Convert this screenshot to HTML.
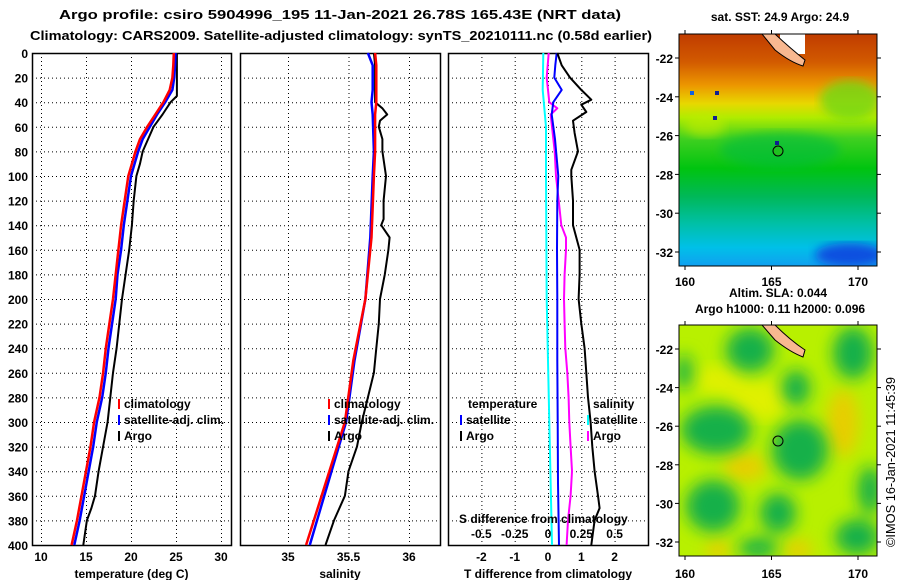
<!DOCTYPE html>
<html><head><meta charset="utf-8"><style>
html,body{margin:0;padding:0;background:#fff;}
svg{display:block;font-family:"Liberation Sans",Arial,sans-serif;font-weight:bold;}
</style></head><body>
<svg id="chart" width="900" height="580" viewBox="0 0 900 580" xmlns="http://www.w3.org/2000/svg">
<defs>
<linearGradient id="sstGrad" x1="0" y1="0" x2="0" y2="1">
<stop offset="0" stop-color="#c03c00"/><stop offset="0.12" stop-color="#d25a00"/>
<stop offset="0.22" stop-color="#ec9600"/><stop offset="0.3" stop-color="#e8d800"/>
<stop offset="0.36" stop-color="#b0ec00"/><stop offset="0.45" stop-color="#40d020"/>
<stop offset="0.58" stop-color="#00c410"/><stop offset="0.7" stop-color="#00b858"/>
<stop offset="0.82" stop-color="#00c0a8"/><stop offset="0.92" stop-color="#00c0e8"/>
<stop offset="1" stop-color="#10a0f0"/></linearGradient>
<filter id="blur8"><feGaussianBlur stdDeviation="8"/></filter>
<filter id="blur5"><feGaussianBlur stdDeviation="5"/></filter>
<clipPath id="clipTop"><rect x="679" y="34" width="198" height="232"/></clipPath>
<clipPath id="clipBot"><rect x="679" y="325" width="198" height="231"/></clipPath>
</defs>
<text x="340" y="19" font-size="13" text-anchor="middle" textLength="562" lengthAdjust="spacingAndGlyphs">Argo profile: csiro 5904996_195 11-Jan-2021 26.78S 165.43E (NRT data)</text>
<text x="341" y="40" font-size="13" text-anchor="middle" textLength="622" lengthAdjust="spacingAndGlyphs">Climatology: CARS2009. Satellite-adjusted climatology: synTS_20210111.nc (0.58d earlier)</text>
<g id="plots"></g>

<!-- top SST map -->
<g clip-path="url(#clipTop)">
<rect x="679" y="34" width="198" height="232" fill="url(#sstGrad)"/>
<ellipse cx="850" cy="100" rx="30" ry="20" fill="#70d818" opacity="0.8" filter="url(#blur5)"/>
<ellipse cx="780" cy="150" rx="60" ry="18" fill="#00bc40" opacity="0.6" filter="url(#blur5)"/>
<ellipse cx="850" cy="255" rx="35" ry="12" fill="#1050e0" filter="url(#blur5)"/>
<ellipse cx="705" cy="125" rx="20" ry="12" fill="#c0ec00" opacity="0.6" filter="url(#blur5)"/>
<rect x="780" y="34" width="25" height="20" fill="#fff"/>
<path d="M762,34 L775,34 Q790,48 805,60 L803,66 Q790,62 775,50 Z" fill="#f8b890" stroke="#000" stroke-width="1"/>
<rect x="715" y="91" width="4" height="4" fill="#102090"/><rect x="713" y="116" width="4" height="4" fill="#102090"/>
<rect x="775" y="141" width="4" height="4" fill="#102090"/><rect x="690" y="91" width="4" height="4" fill="#1060e0"/>
<circle cx="778" cy="151" r="5" fill="#20c020" stroke="#000"/>
</g>
<rect x="679" y="34" width="198" height="232" fill="none" stroke="#000"/>
<text x="780" y="21" font-size="12" text-anchor="middle">sat. SST: 24.9 Argo: 24.9</text>

<!-- bottom SLA map -->
<g clip-path="url(#clipBot)">
<rect x="679" y="325" width="198" height="231" fill="#b8f000"/>
<g fill="#e0f000" filter="url(#blur8)">
<ellipse cx="760" cy="400" rx="30" ry="20"/><ellipse cx="720" cy="380" rx="25" ry="15"/>
</g>
<g fill="#f0c800" filter="url(#blur8)" opacity="0.85">
<ellipse cx="843" cy="423" rx="16" ry="34"/><ellipse cx="745" cy="467" rx="22" ry="14"/>
<ellipse cx="718" cy="550" rx="12" ry="10"/><ellipse cx="798" cy="550" rx="15" ry="10"/>
</g>
<g fill="#18b048" filter="url(#blur8)">
<ellipse cx="716" cy="430" rx="35" ry="24"/><ellipse cx="800" cy="450" rx="28" ry="30"/>
<ellipse cx="713" cy="506" rx="27" ry="26"/><ellipse cx="778" cy="513" rx="18" ry="20"/>
<ellipse cx="857" cy="537" rx="22" ry="18"/><ellipse cx="870" cy="490" rx="12" ry="24"/>
<ellipse cx="750" cy="350" rx="24" ry="22"/><ellipse cx="853" cy="353" rx="20" ry="26"/>
<ellipse cx="684" cy="372" rx="8" ry="18"/><ellipse cx="796" cy="388" rx="14" ry="18"/>
<ellipse cx="758" cy="548" rx="20" ry="10"/>
</g>
<path d="M762,325 L775,325 Q790,340 805,350 L803,357 Q790,352 775,340 Z" fill="#f8b890" stroke="#000" stroke-width="1"/>
<circle cx="778" cy="441" r="5" fill="none" stroke="#000"/>
</g>
<rect x="679" y="325" width="198" height="231" fill="none" stroke="#000"/>
<text x="778" y="297" font-size="12" text-anchor="middle">Altim. SLA: 0.044</text>
<text x="780" y="313" font-size="12" text-anchor="middle">Argo h1000: 0.11 h2000: 0.096</text>
<text font-size="13" font-weight="normal" textLength="170" lengthAdjust="spacingAndGlyphs" transform="translate(895,547) rotate(-90)">©IMOS 16-Jan-2021 11:45:39</text>
<g id="maps"></g>
</svg>
<script>
// ---------- data ----------
const tempClimDepth = [0,10,20,30,40,50,60,70,80,90,100,120,140,160,180,200,220,240,260,280,300,320,340,360,380,400];
const tempClim = [24.75,24.7,24.6,24.3,23.6,22.7,21.8,21.0,20.5,20.1,19.7,19.3,18.9,18.6,18.3,18.0,17.6,17.2,16.9,16.5,15.9,15.5,15.0,14.5,14.0,13.4];
const tempSat  = [24.95,24.9,24.8,24.6,23.8,22.9,22.1,21.3,20.8,20.4,20.0,19.6,19.2,18.9,18.5,18.3,17.9,17.5,17.2,16.8,16.2,15.8,15.3,14.8,14.3,13.7];
const tempArgoDepth = [0,10,20,30,35,40,50,60,70,80,90,100,120,140,160,180,200,220,240,260,280,300,320,340,360,370,380,400];
const tempArgo = [25.1,25.1,25.1,25.1,25.1,24.4,23.5,22.5,21.9,21.3,21.0,20.6,20.3,20.1,19.8,19.4,19.0,18.7,18.4,18.0,17.7,17.4,16.9,16.4,16.0,15.6,15.1,14.7];

const salDepth = [0,10,20,30,40,50,80,100,150,200,250,300,350,400];
const salClim = [35.72,35.73,35.73,35.73,35.73,35.72,35.72,35.71,35.69,35.64,35.54,35.47,35.31,35.15];
const salSat  = [35.66,35.70,35.70,35.70,35.69,35.70,35.71,35.70,35.68,35.64,35.55,35.48,35.33,35.18];
const salArgoDepth = [0,10,30,40,45,50,55,60,70,80,100,120,135,140,150,160,180,200,220,240,260,280,300,320,340,360,380,400];
const salArgo = [35.71,35.72,35.72,35.72,35.78,35.82,35.76,35.75,35.78,35.78,35.81,35.79,35.79,35.77,35.84,35.83,35.80,35.76,35.75,35.73,35.71,35.66,35.61,35.57,35.50,35.47,35.38,35.31];

const tdiffDepth = [0,10,20,30,40,50,70,100,120,160,200,250,300,350,400];
const tdiffSat = [0.26,0.22,0.19,0.41,0.16,0.11,0.21,0.31,0.28,0.27,0.28,0.28,0.29,0.30,0.33];
const tdiffArgoDepth = [0,10,20,30,38,42,48,55,65,80,95,100,120,140,160,180,200,220,240,260,280,300,320,340,360,370,380,400];
const tdiffArgo = [0.28,0.41,0.66,1.0,1.30,1.0,1.15,0.75,0.8,0.9,0.7,0.7,0.75,0.75,0.95,0.95,0.92,1.0,1.1,1.15,1.2,1.28,1.33,1.4,1.5,1.55,1.4,1.3];
const sdiffDepth = [0,30,60,100,200,300,400];
const sdiffSat = [-0.035,-0.04,-0.015,-0.015,-0.01,0.01,0.03];
const sdiffArgoDepth = [0,20,40,45,50,60,80,100,120,140,150,160,180,200,220,240,260,280,300,320,340,360,370,380,400];
const sdiffArgo = [0.005,-0.01,0.01,0.07,0.02,0.03,0.05,0.06,0.08,0.10,0.135,0.135,0.125,0.12,0.125,0.13,0.145,0.155,0.16,0.17,0.18,0.17,0.16,0.15,0.14];

const depthTicks = [0,20,40,60,80,100,120,140,160,180,200,220,240,260,280,300,320,340,360,380,400];
const tempTicks = [10,15,20,25,30];
const salTicks = [35,35.5,36];
const salTickLabels = ['35','35.5','36'];
const tdiffTicks = [-2,-1,0,1,2];
const sdiffTicks = [-0.5,-0.25,0,0.25,0.5];
const sdiffTickLabels = ['-0.5','-0.25','0','0.25','0.5'];
const latTicks = [-22,-24,-26,-28,-30,-32];
const lonTicks = [160,165,170];

// ---------- scales ----------
const Y0 = 53, Y1 = 545;
const yD = d => Y0 + d * (Y1 - Y0) / 400;
const xT = t => 41 + (t - 10) * 9;
const xS = s => 288 + (s - 35) * 121;
const xTD = t => 548 + t * 33.3;
const xSD = s => 548 + s * 133.2;
const NS = 'http://www.w3.org/2000/svg';
const g = document.getElementById('plots');
function mk(tag, at, parent) {
  const e = document.createElementNS(NS, tag);
  for (const k in at) e.setAttribute(k, at[k]);
  (parent || g).appendChild(e); return e;
}
function line(xs, ds, sx, color, w, name) {
  const pts = xs.map((v, i) => sx(v).toFixed(1) + ',' + yD(ds[i]).toFixed(1)).join(' ');
  const e = mk('polyline', {points: pts, fill: 'none', stroke: color, 'stroke-width': w, 'stroke-linejoin': 'round'});
  
  
}
function txt(x, y, s, anchor, size, name) {
  const e = mk('text', {x: x, y: y, 'font-size': size || 12, 'text-anchor': anchor || 'start'});
  e.textContent = s;
  
  
  return e;
}
function panel(x0, x1, ticks, sx, labels, title, name) {
  const grid = mk('g', {stroke: '#000', 'stroke-width': 1, 'stroke-dasharray': '1,3'});
  
  
  depthTicks.forEach(d => mk('line', {x1: x0, x2: x1, y1: yD(d) + 0.5, y2: yD(d) + 0.5}, grid));
  ticks.forEach(t => mk('line', {x1: sx(t) + 0.5, x2: sx(t) + 0.5, y1: Y0, y2: Y1}, grid));
  const fr = mk('rect', {x: x0 + 0.5, y: Y0 + 0.5, width: x1 - x0, height: Y1 - Y0, fill: 'none', stroke: '#000', 'stroke-width': 1.5});
  
  
  ticks.forEach((t, i) => txt(sx(t), 561, labels[i], 'middle', 12, name + '-x-tick'));
  txt((x0 + x1) / 2, 578, title, 'middle', 12, name + '-x-title');
}
function legendItem(x, y, color, label, name) {
  const e = mk('rect', {x: x, y: y - 9, width: 2, height: 10, fill: color});
  
  
  txt(x + 6, y, label, 'start', 12, name + '-label');
}

// panels
panel(32, 231, tempTicks, xT, tempTicks.map(String), 'temperature (deg C)', 'temperature-panel');
panel(240, 440, salTicks, xS, salTickLabels, 'salinity', 'salinity-panel');
panel(448, 648, tdiffTicks, xTD, tdiffTicks.map(String), 'T difference from climatology', 'difference-panel');
depthTicks.forEach(d => txt(28, yD(d) + 5, String(d), 'end', 12, 'depth-tick'));

line(tempArgo, tempArgoDepth, xT, '#000', 2, 'temperature-argo-line');
line(tempSat, tempClimDepth, xT, '#0000ff', 2.5, 'temperature-satellite-line');
line(tempClim, tempClimDepth, xT, '#ff0000', 2.5, 'temperature-climatology-line');
line(salArgo, salArgoDepth, xS, '#000', 2, 'salinity-argo-line');
line(salSat, salDepth, xS, '#0000ff', 2.5, 'salinity-satellite-line');
line(salClim, salDepth, xS, '#ff0000', 2.5, 'salinity-climatology-line');
line(sdiffSat, sdiffDepth, xSD, '#00ffff', 2, 'sdiff-satellite-line');
line(sdiffArgo, sdiffArgoDepth, xSD, '#ff00ff', 2, 'sdiff-argo-line');
line(tdiffSat, tdiffDepth, xTD, '#0000ff', 2, 'tdiff-satellite-line');
line(tdiffArgo, tdiffArgoDepth, xTD, '#000', 2, 'tdiff-argo-line');

legendItem(118, 408, '#ff0000', 'climatology', 'legend-temp-climatology');
legendItem(118, 424, '#0000ff', 'satellite-adj. clim.', 'legend-temp-satellite');
legendItem(118, 440, '#000', 'Argo', 'legend-temp-argo');
legendItem(328, 408, '#ff0000', 'climatology', 'legend-sal-climatology');
legendItem(328, 424, '#0000ff', 'satellite-adj. clim.', 'legend-sal-satellite');
legendItem(328, 440, '#000', 'Argo', 'legend-sal-argo');
txt(468, 408, 'temperature', 'start', 12, 'legend-temperature-heading');
legendItem(460, 424, '#0000ff', 'satellite', 'legend-tdiff-satellite');
legendItem(460, 440, '#000', 'Argo', 'legend-tdiff-argo');
txt(593, 408, 'salinity', 'start', 12, 'legend-salinity-heading');
legendItem(587, 424, '#00ffff', 'satellite', 'legend-sdiff-satellite');
legendItem(587, 440, '#ff00ff', 'Argo', 'legend-sdiff-argo');
txt(459, 523, 'S difference from climatology', 'start', 12, 'sdiff-axis-title');
sdiffTicks.forEach((t, i) => txt(xSD(t), 538, sdiffTickLabels[i], 'middle', 12, 'sdiff-tick'));

// map axes
const mg = document.getElementById('maps');
const xLon = l => 685 + (l - 160) * 17.3;
const yLatTop = l => 58 + (-22 - l) * 19.4;
const yLatBot = l => 349 + (-22 - l) * 19.3;
function mapAxes(yLat, xlabY, yTop, yBot, name) {
  latTicks.forEach(l => {
    const y = yLat(l);
    mk('line', {x1: 679, x2: 675, y1: y, y2: y, stroke: '#000'}, mg);
    mk('line', {x1: 877, x2: 881, y1: y, y2: y, stroke: '#000'}, mg);
    const e = txt(673, y + 5, String(l), 'end', 12, name + '-lat-tick');
    mg.appendChild(e);
  });
  lonTicks.forEach(l => {
    const x = xLon(l);
    mk('line', {x1: x, x2: x, y1: yBot, y2: yBot + 4, stroke: '#000'}, mg);
    mk('line', {x1: x, x2: x, y1: yTop, y2: yTop - 4, stroke: '#000'}, mg);
    const e = txt(x, xlabY, String(l), 'middle', 12, name + '-lon-tick');
    mg.appendChild(e);
  });
}
mapAxes(yLatTop, 286, 34, 266, 'sst-map');
mapAxes(yLatBot, 578, 325, 556, 'sla-map');
</script>
</body></html>
